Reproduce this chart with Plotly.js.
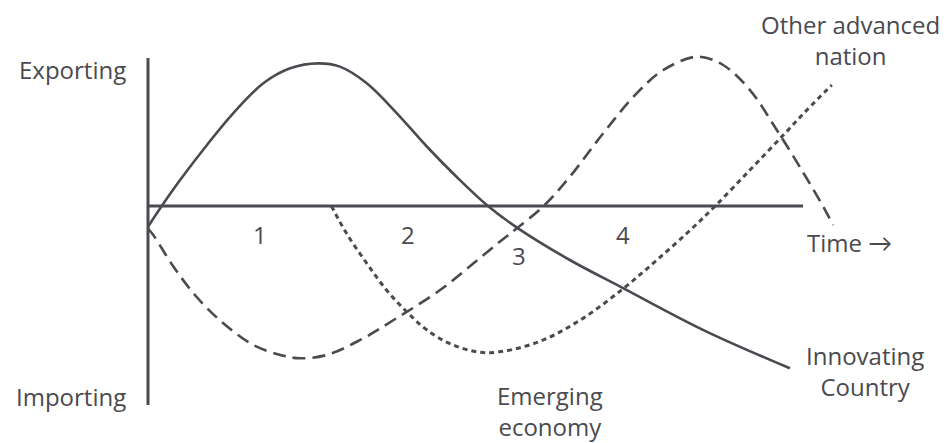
<!DOCTYPE html>
<html>
<head>
<meta charset="utf-8">
<script src="https://cdn.plot.ly/plotly-3.0.1.min.js"></script>
<style>html,body{margin:0;padding:0;background:#fff;}#chart{width:951px;height:443px;}</style>
</head>
<body>
<div id="chart"></div>
<script>
// Time axis (0 = origin, 100 = end of time axis); trade balance (+ exporting, - importing)
const innovatingX = [0, 2.1, 4.9, 9.0, 13.0, 17.6, 21.7, 26.0, 29.3, 33.4, 38.0, 42.6, 47.1, 51.9, 56.5, 64.4, 72.6, 84.8, 98.0];
const innovatingY = [-13.8, 0, 17.3, 40.7, 61.8, 81.8, 91.8, 95.1, 92.9, 81.8, 61.8, 39.5, 19.5, 0, -14.9, -36, -54.9, -82.7, -108.2];

const dashedX = [0, 0.8, 3.9, 7.4, 11.5, 16.1, 20.2, 23.2, 27.3, 32.4, 37.5, 44.6, 49.7, 53.7, 56.3, 60.4, 64.4, 69.5, 74.6, 78.7, 83.8, 87.8, 91.9, 96.0, 100.1, 103.1, 104.6];
const dashedY = [-15, -19.3, -40.5, -60.5, -78.2, -92.7, -99.3, -101.5, -99.3, -89.3, -76, -56, -38.2, -23.8, -14.9, 0, 19.5, 48.5, 75.1, 90.7, 99.5, 94, 77.3, 50.7, 21.8, -0.5, -12.7];

const dottedX = [28.0, 30.3, 33.4, 36.4, 39.5, 42.6, 46.6, 51.7, 59.3, 66.0, 72.6, 77.7, 82.8, 86.6, 91.9, 97.0, 100.6, 104.4];
const dottedY = [0, -18.2, -38.2, -56, -70.5, -82.7, -92.7, -97.8, -91.1, -76, -54.9, -36, -16, 0, 24, 47.3, 64, 80.7];

const stageLabels = ['1', '2', '3', '4'];
const seriesLabels = ['Innovating<br>Country', 'Other advanced<br>nation', 'Emerging<br>economy'];
const axisLabels = ['Exporting', 'Importing', 'Time <span style="font-family:Lato">→</span>'];

const INK = '#4a4a50';
const FONT = {family: '"Open Sans", "Noto Sans", sans-serif', size: 24, color: INK};

const traces = [
  {x: innovatingX, y: innovatingY, mode: 'lines', line: {color: INK, width: 2.6, shape: 'spline', smoothing: 1}, hoverinfo: 'skip'},
  {x: dashedX, y: dashedY, mode: 'lines', line: {color: INK, width: 2.6, dash: '13px,7px', shape: 'spline', smoothing: 1}, hoverinfo: 'skip'},
  {x: dottedX, y: dottedY, mode: 'lines', line: {color: INK, width: 3, dash: '5px,4px', shape: 'spline', smoothing: 1}, hoverinfo: 'skip'}
];

const ann = (text, x, y, xanchor) => ({text, x, y, xref: 'x', yref: 'y', xanchor: xanchor || 'center', yanchor: 'middle', showarrow: false, font: FONT});

const annotations = [
  ann(axisLabels[0], -3.0, 90.7, 'right'),
  ann(axisLabels[1], -3.0, -127.3, 'right'),
  ann(axisLabels[2], 100.3, -24, 'left'),
  ann(stageLabels[0], 17.1, -18.7),
  ann(stageLabels[1], 39.7, -18.7),
  ann(stageLabels[2], 56.6, -32.7),
  ann(stageLabels[3], 72.5, -19.3),
  ann(seriesLabels[0], 109.5, -110),
  ann(seriesLabels[1], 107.2, 110.7),
  ann(seriesLabels[2], 61.4, -136.7)
];

const layout = {
  width: 951, height: 443,
  margin: {l: 0, r: 0, t: 0, b: 0, pad: 0},
  paper_bgcolor: '#ffffff', plot_bgcolor: '#ffffff',
  showlegend: false,
  xaxis: {visible: false, range: [-22.595, 122.595], fixedrange: true},
  yaxis: {visible: false, range: [-158, 137.33], fixedrange: true},
  shapes: [
    {type: 'line', xref: 'x', yref: 'y', x0: 0, x1: 0, y0: 98.7, y1: -132.7, line: {color: INK, width: 3}},
    {type: 'line', xref: 'x', yref: 'y', x0: 0, x1: 100, y0: 0, y1: 0, line: {color: INK, width: 3}}
  ],
  annotations
};

Plotly.newPlot('chart', traces, layout, {staticPlot: true, displayModeBar: false});
</script>
</body>
</html>
